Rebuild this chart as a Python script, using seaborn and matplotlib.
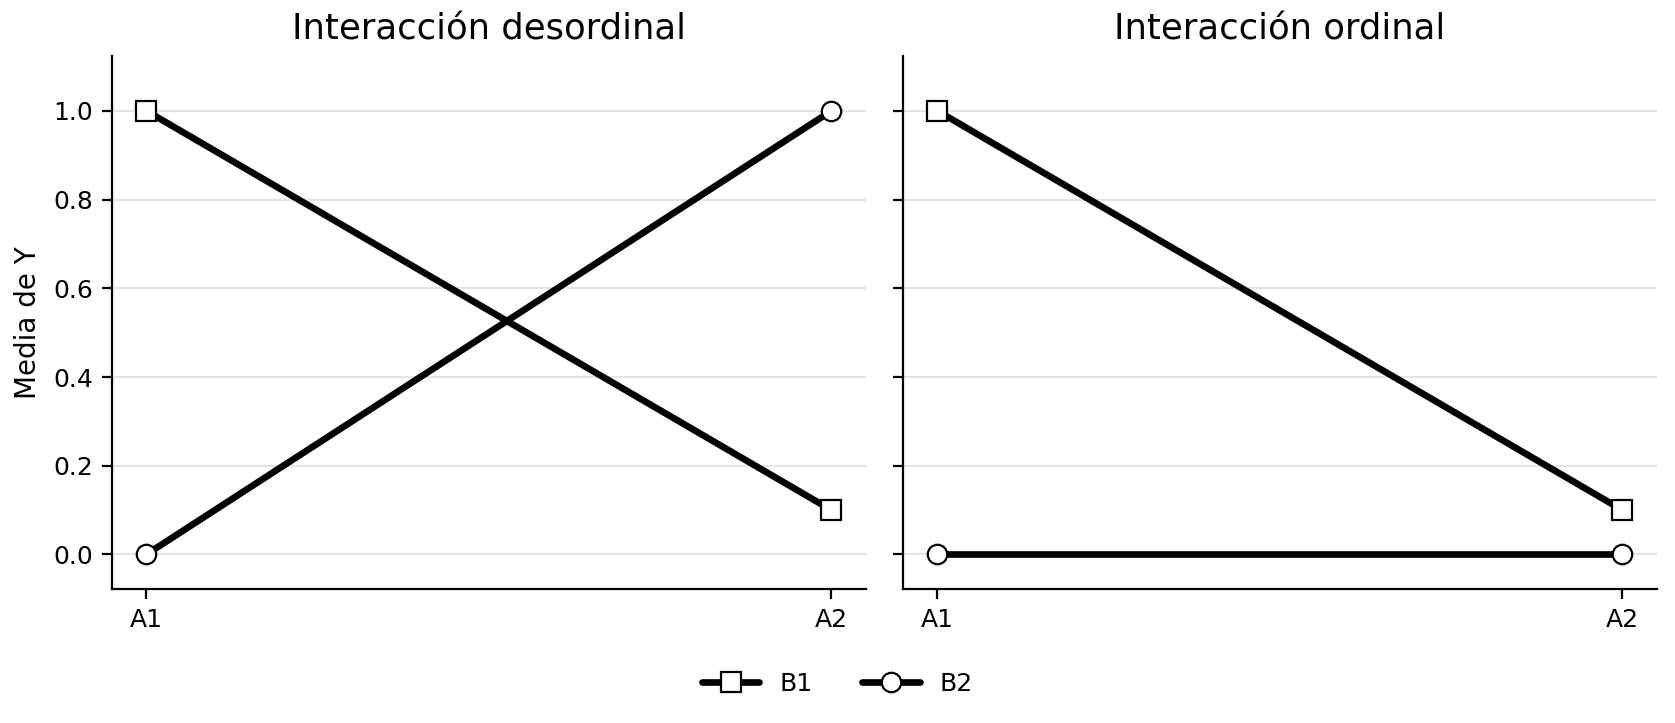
import matplotlib
matplotlib.use("Agg")
import matplotlib.pyplot as plt
import seaborn as sns
import pandas as pd

niveles_a = ["A1", "A2"]
desordinal_b1 = [1.0, 0.1]
desordinal_b2 = [0.0, 1.0]
ordinal_b1 = [1.0, 0.1]
ordinal_b2 = [0.0, 0.0]

paneles = [
    ("Interacción desordinal", desordinal_b1, desordinal_b2),
    ("Interacción ordinal", ordinal_b1, ordinal_b2),
]

sns.set_style("ticks")
plt.rcParams["font.family"] = ["DejaVu Sans"]
plt.rcParams["text.color"] = "black"
plt.rcParams["axes.labelcolor"] = "black"
plt.rcParams["xtick.color"] = "black"
plt.rcParams["ytick.color"] = "black"
plt.rcParams["axes.edgecolor"] = "black"

fig, axes = plt.subplots(1, 2, figsize=(8.375, 3.615), dpi=200, sharey=True)
fig.subplots_adjust(left=0.067, right=0.989, top=0.922, bottom=0.186, wspace=0.05)

for ax, (titulo, b1, b2) in zip(axes, paneles):
    df = pd.DataFrame({
        "x": list(range(len(niveles_a))) * 2,
        "y": b1 + b2,
        "B": ["B1"] * len(b1) + ["B2"] * len(b2),
    })
    ax.yaxis.grid(True, color="#e5e5e5", linewidth=0.8, zorder=0)
    ax.set_axisbelow(True)
    sns.lineplot(data=df, x="x", y="y", style="B", markers={"B1": "s", "B2": "o"},
                 dashes=False, color="black", linewidth=2.4, markersize=7,
                 markerfacecolor="white", markeredgecolor="black", markeredgewidth=0.8,
                 ax=ax, legend=(ax is axes[0]), zorder=3)
    ax.set_title(titulo, fontsize=12.75)
    ax.set_xticks(range(len(niveles_a)))
    ax.set_xticklabels(niveles_a)
    ax.set_xlim(-0.05, 1.05)
    ax.set_ylim(-0.077, 1.123)
    ax.set_yticks([0.0, 0.2, 0.4, 0.6, 0.8, 1.0])
    ax.set_xlabel("")
    ax.tick_params(labelsize=9, width=0.8, length=3.5)
    sns.despine(ax=ax)

axes[0].set_ylabel("Media de Y", fontsize=10)
axes[1].set_ylabel("")

handles, labels = axes[0].get_legend_handles_labels()
axes[0].get_legend().remove()
fig.legend(handles, labels, loc="center", bbox_to_anchor=(0.5, 0.054), ncol=2,
           frameon=False, fontsize=9, handlelength=2.3, columnspacing=2)

fig.savefig("out.png", dpi=200)
